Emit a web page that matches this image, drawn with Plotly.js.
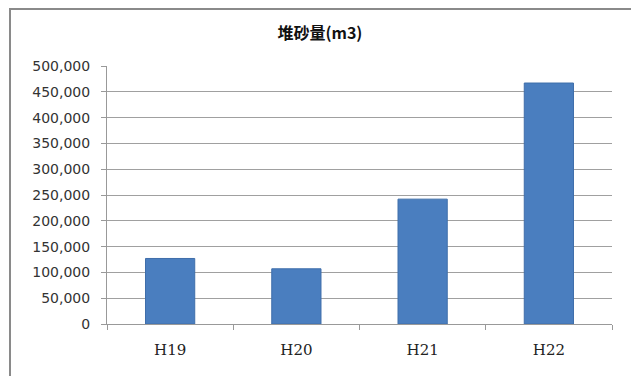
<!DOCTYPE html>
<html>
<head>
<meta charset="utf-8">
<script src="https://cdn.plot.ly/plotly-3.0.1.min.js"></script>
<style>
  html, body { margin: 0; padding: 0; background: #fff; }
  #wrap { position: relative; width: 631px; height: 376px; overflow: hidden; }
  #chart { position: absolute; left: 0; top: 0; width: 631px; height: 376px; }
  #frame { position: absolute; left: 9px; top: 8px; width: 640px; height: 390px;
           border: 2px solid #8a8a8a; box-sizing: border-box; pointer-events: none; }
</style>
</head>
<body>
<div id="wrap">
  <div id="chart"></div>
  <div id="frame"></div>
</div>
<script>
// Sediment volume per fiscal year (m3)
const years = ['H19', 'H20', 'H21', 'H22'];
const sediment = [127000, 107000, 242000, 467000];
const yTicks = [0, 50000, 100000, 150000, 200000, 250000, 300000, 350000, 400000, 450000, 500000];
const yTickText = ['0', '50,000', '100,000', '150,000', '200,000', '250,000', '300,000', '350,000', '400,000', '450,000', '500,000'];

const trace = {
  type: 'bar',
  x: years,
  y: sediment,
  marker: { color: '#4A7EBF', line: { color: '#3F6EAA', width: 1 } },
  hoverinfo: 'x+y'
};

const layout = {
  width: 631,
  height: 376,
  margin: { l: 107, r: 19, t: 66, b: 52 },
  paper_bgcolor: '#ffffff',
  plot_bgcolor: '#ffffff',
  showlegend: false,
  bargap: 0.61,
  title: {
    text: '堆砂量(m3)',
    font: { family: '"Noto Sans CJK JP", "Noto Sans", sans-serif', size: 16, color: '#111', weight: 'bold' },
    x: 0.507, xref: 'container', xanchor: 'center',
    y: 33, yref: 'container', yanchor: 'middle'
  },
  xaxis: {
    type: 'category',
    tickson: 'boundaries',
    ticks: 'outside',
    ticklen: 5,
    tickcolor: '#999',
    showline: true,
    linecolor: '#999',
    linewidth: 1,
    showgrid: false,
    ticklabelstandoff: 12,
    tickfont: { family: '"DejaVu Serif", "Liberation Serif", serif', size: 15, color: '#222' },
    fixedrange: true
  },
  yaxis: {
    range: [0, 500000],
    tickvals: yTicks,
    ticktext: yTickText,
    ticks: 'outside',
    ticklen: 5,
    tickcolor: '#999',
    showline: true,
    linecolor: '#999',
    linewidth: 1,
    showgrid: true,
    gridcolor: '#a0a0a0',
    gridwidth: 1,
    zeroline: false,
    ticklabelstandoff: 8,
    tickfont: { family: '"DejaVu Sans", "Liberation Sans", sans-serif', size: 14, color: '#333' },
    fixedrange: true
  }
};

Plotly.newPlot('chart', [trace], layout, { displayModeBar: false, staticPlot: true });
</script>
</body>
</html>
